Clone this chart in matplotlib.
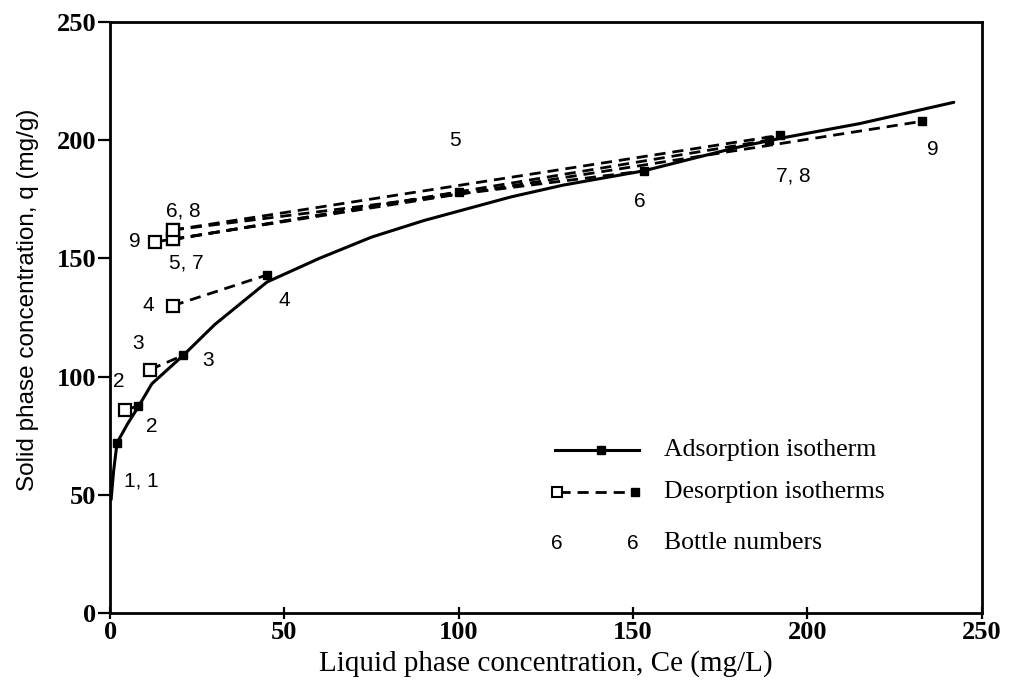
from matplotlib import pyplot as plt

# fitted adsorption isotherm (smooth curve)
ads_curve_ce = [0.3, 1, 2, 5, 8, 12, 21, 30, 45, 60, 75, 90, 100, 115, 130, 153, 180, 193, 215, 242]
ads_curve_q = [48, 60, 72, 80, 87, 97, 109, 122, 140, 150, 159, 166, 170, 176, 181, 187, 197, 201, 207, 216]

# bottle numbers and their equilibrium points
bottles = [1, 2, 3, 4, 5, 6, 7, 8, 9]
ads_ce = [2, 8, 21, 45, 100, 153, 189, 192, 233]
ads_q = [72, 87.5, 109, 143, 178, 187, 200, 202, 208]
des_ce = [2, 4.3, 11.5, 18, 18, 18, 18, 18, 13]
des_q = [72, 86, 103, 130, 158, 162, 158, 162, 157]

# bottle number labels placed next to the points
bottle_labels = ["1, 1", "2", "2", "3", "3", "4", "4", "5", "5, 7", "6, 8", "6", "7, 8", "9", "9"]
bottle_label_ce = [9, 2.5, 12, 8, 28, 11, 50, 99, 22, 21, 152, 196, 7, 236]
bottle_label_q = [56, 98, 79, 114, 107, 130, 132, 200, 148, 170, 174, 185, 157, 196]

SERIF = 'Liberation Serif'
SANS = 'Liberation Sans'


def draw_curves(ax):
    ax.plot(ads_curve_ce, ads_curve_q, color='black', lw=2.2, solid_capstyle='round')
    for i in range(len(bottles)):
        if des_ce[i] != ads_ce[i]:
            ax.plot([des_ce[i], ads_ce[i]], [des_q[i], ads_q[i]], color='black', lw=2,
                    ls=(0, (4, 2.5)))
    ax.plot(ads_ce, ads_q, ls='none', marker='s', ms=6, mfc='black', mec='black')
    ax.plot(des_ce[1:], des_q[1:], ls='none', marker='s', ms=8, mfc='white', mec='black', mew=1.6)
    for text, x, y in zip(bottle_labels, bottle_label_ce, bottle_label_q):
        ax.text(x, y, text, family=SANS, fontsize=15, ha='center', va='center')


def draw_legend(ax):
    tr = ax.transAxes
    ax.plot([0.51, 0.607], [0.276, 0.276], color='black', lw=2.2, transform=tr, clip_on=False)
    ax.plot([0.563], [0.276], marker='s', ms=6, color='black', transform=tr, clip_on=False)
    ax.text(0.636, 0.276, 'Adsorption isotherm', family=SERIF, fontsize=18.5, va='center', transform=tr)

    ax.plot([0.515, 0.6], [0.205, 0.205], color='black', lw=2, ls=(0, (4, 2.5)), transform=tr)
    ax.plot([0.513], [0.205], marker='s', ms=7, mfc='white', mec='black', mew=1.5, transform=tr)
    ax.plot([0.602], [0.205], marker='s', ms=6, color='black', transform=tr)
    ax.text(0.636, 0.205, 'Desorption isotherms', family=SERIF, fontsize=18.5, va='center', transform=tr)

    ax.text(0.513, 0.118, '6', family=SANS, fontsize=15, ha='center', va='center', transform=tr)
    ax.text(0.600, 0.118, '6', family=SANS, fontsize=15, ha='center', va='center', transform=tr)
    ax.text(0.636, 0.118, 'Bottle numbers', family=SERIF, fontsize=18.5, va='center', transform=tr)


def main():
    fig = plt.figure(figsize=(10.1, 6.85), dpi=100)
    ax = fig.add_axes([0.109, 0.105, 0.863, 0.863])
    draw_curves(ax)
    draw_legend(ax)

    ax.set_xlim(0, 250)
    ax.set_ylim(0, 250)
    ax.set_xticks(range(0, 251, 50))
    ax.set_yticks(range(0, 251, 50))
    for spine in ax.spines.values():
        spine.set_linewidth(2)
    ax.tick_params(axis='y', direction='out', length=9, width=1.6, pad=1, labelsize=19)
    ax.tick_params(axis='x', direction='inout', length=8, width=1.6, pad=2, labelsize=19)
    for lbl in ax.get_xticklabels() + ax.get_yticklabels():
        lbl.set_family(SERIF)
        lbl.set_fontweight('bold')
    ax.set_xlabel('Liquid phase concentration, Ce (mg/L)', family=SERIF, fontsize=21, labelpad=0)
    ax.set_ylabel('Solid phase concentration, q (mg/g)', family=SANS, fontsize=17.5)
    ax.yaxis.set_label_coords(-0.082, 0.53)
    ax.xaxis.set_label_coords(0.5, -0.063)

    fig.savefig('out.png', dpi=100)


if __name__ == "__main__":
    main()
